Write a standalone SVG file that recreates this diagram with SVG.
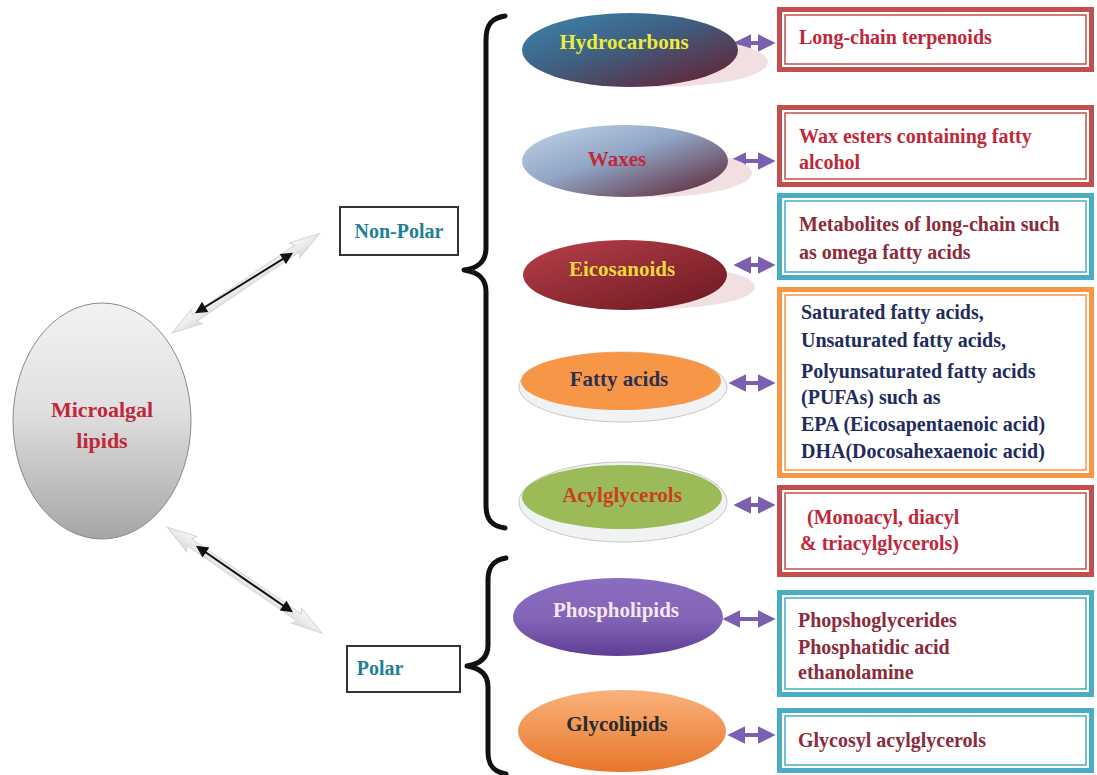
<svg xmlns="http://www.w3.org/2000/svg" width="1097" height="775" viewBox="0 0 1097 775">
<defs>
<style>
text{font-family:"Liberation Serif","Times New Roman",serif;font-weight:bold;font-size:20px}
.el{font-size:21px}
.red{fill:#c0283a}.mar{fill:#8b2b3b}.navy{fill:#1f2d5c}.teal{fill:#1f7f96}
.bR{fill:#fff;stroke:#c0504d}.bT{fill:#fff;stroke:#4bacc6}.bO{fill:#fff;stroke:#f79646}
.thick{stroke-width:5}.thin{stroke-width:1.5}
.pa{stroke:#7b5fb0;stroke-width:4;fill:none;marker-start:url(#pS);marker-end:url(#pE)}
.ba{stroke:#111;stroke-width:2;fill:none;marker-start:url(#bS);marker-end:url(#bE)}
.ga{fill:url(#gArr);stroke:#d4d4d4;stroke-width:1}
.brace{fill:none;stroke:#111;stroke-width:5;stroke-linecap:round;stroke-linejoin:round}
.lbl{fill:#fff;stroke:#333;stroke-width:2}
</style>
<marker id="pE" viewBox="0 0 10 10" refX="8" refY="5" markerWidth="4.5" markerHeight="4.5" orient="auto"><path d="M0 0 L10 5 L0 10 Z" fill="#7b5fb0"/></marker>
<marker id="pS" viewBox="0 0 10 10" refX="2" refY="5" markerWidth="4.5" markerHeight="4.5" orient="auto"><path d="M10 0 L0 5 L10 10 Z" fill="#7b5fb0"/></marker>
<marker id="bE" viewBox="0 0 10 10" refX="8" refY="5" markerWidth="7" markerHeight="6" orient="auto"><path d="M0 0 L10 5 L0 10 Z" fill="#111"/></marker>
<marker id="bS" viewBox="0 0 10 10" refX="2" refY="5" markerWidth="7" markerHeight="6" orient="auto"><path d="M10 0 L0 5 L10 10 Z" fill="#111"/></marker>
<linearGradient id="gMain" x1="0" y1="0" x2="0" y2="1"><stop offset="0" stop-color="#f2f2f2"/><stop offset="0.45" stop-color="#e0e0e0"/><stop offset="1" stop-color="#a6a6a6"/></linearGradient>
<linearGradient id="gArr" x1="0" y1="0" x2="0" y2="1"><stop offset="0" stop-color="#fafafa"/><stop offset="1" stop-color="#dcdcdc"/></linearGradient>
<linearGradient id="gHyd" x1="0" y1="0" x2="1" y2="1"><stop offset="0" stop-color="#3b86b0"/><stop offset="0.45" stop-color="#3f5f80"/><stop offset="1" stop-color="#6a1a2c"/></linearGradient>
<linearGradient id="gWax" x1="0" y1="0" x2="1" y2="1"><stop offset="0" stop-color="#c4d6ec"/><stop offset="0.45" stop-color="#90a4c4"/><stop offset="1" stop-color="#5a1c2c"/></linearGradient>
<linearGradient id="gEic" x1="0" y1="0" x2="1" y2="1"><stop offset="0" stop-color="#b8404a"/><stop offset="1" stop-color="#6a1820"/></linearGradient>
<linearGradient id="gPho" x1="0" y1="0" x2="0" y2="1"><stop offset="0" stop-color="#8a6cc0"/><stop offset="0.5" stop-color="#8466b8"/><stop offset="1" stop-color="#5e3e96"/></linearGradient>
<linearGradient id="gGly" x1="0" y1="0" x2="0" y2="1"><stop offset="0" stop-color="#f9b27c"/><stop offset="1" stop-color="#e8762a"/></linearGradient>
</defs>
<rect width="1097" height="775" fill="#fff"/>

<g id="connectors">
<g transform="translate(172 333) rotate(-34)"><polygon class="ga" points="0,0 30,-9 27,-4 151,-4 148,-9 178,0 148,9 151,4 27,4 30,9"/></g>
<g transform="translate(167 527) rotate(34.4)"><polygon class="ga" points="0,0 30,-9 27,-4 160,-4 157,-9 188,0 157,9 160,4 27,4 30,9"/></g>
<line class="ba" x1="197" y1="312" x2="291" y2="254"/>
<line class="ba" x1="198" y1="547" x2="291" y2="611"/>
<path class="brace" d="M505 16 C492 18 486 24 486 40 L486 248 C486 262 478 268 464 270 C478 272 486 278 486 292 L486 505 C486 520 492 526 505 528"/>
<path class="brace" d="M506 558 C494 560 488 566 488 580 L488 645 C488 658 480 664 467 666 C480 668 488 674 488 687 L488 752 C488 766 494 772 506 774"/>
<line class="pa" x1="737" y1="43" x2="772" y2="43"/>
<line class="pa" x1="732" y1="161" x2="772" y2="161"/>
<line class="pa" x1="737" y1="265" x2="772" y2="265"/>
<line class="pa" x1="732" y1="383" x2="772" y2="383"/>
<line class="pa" x1="737" y1="505" x2="772" y2="505"/>
<line class="pa" x1="726" y1="619" x2="772" y2="619"/>
<line class="pa" x1="731" y1="735" x2="772" y2="735"/>
</g>

<g id="microalgal">
<ellipse cx="102" cy="421" rx="89" ry="118" fill="url(#gMain)" stroke="#8a8a8a" stroke-width="1"/>
<text x="102" y="417" text-anchor="middle" class="red" style="font-size:22px">Microalgal</text>
<text x="102" y="448" text-anchor="middle" class="red" style="font-size:22px">lipids</text>
</g>

<g id="nonpolar">
<rect class="lbl" x="340" y="207" width="118" height="48"/>
<text x="399" y="238" text-anchor="middle" class="teal">Non-Polar</text>
</g>
<g id="polar">
<rect class="lbl" x="347" y="646" width="113" height="46"/>
<text x="380" y="675" text-anchor="middle" class="teal">Polar</text>
</g>

<g id="hydrocarbons">
<ellipse cx="660" cy="62" rx="108" ry="25" fill="#f2dfe2"/>
<ellipse cx="630" cy="50" rx="108" ry="37" fill="url(#gHyd)"/>
<text x="624" y="49" text-anchor="middle" class="el" fill="#ecec3c">Hydrocarbons</text>
</g>
<g id="waxes">
<ellipse cx="652" cy="173" rx="100" ry="24" fill="#f2dfe2"/>
<ellipse cx="625" cy="161" rx="103" ry="36" fill="url(#gWax)"/>
<text x="617" y="166" text-anchor="middle" class="red el">Waxes</text>
</g>
<g id="eicosanoids">
<ellipse cx="655" cy="287" rx="100" ry="22" fill="#f2dfe2"/>
<ellipse cx="625" cy="275" rx="102" ry="35" fill="url(#gEic)"/>
<text x="622" y="276" text-anchor="middle" class="el" fill="#ecd83c">Eicosanoids</text>
</g>
<g id="fattyacids">
<ellipse cx="623" cy="387" rx="104" ry="35" fill="#f0f2f4" stroke="#c8c8c8" stroke-width="1"/>
<ellipse cx="621" cy="381" rx="100" ry="29" fill="#f79646"/>
<text x="619" y="386" text-anchor="middle" class="el" fill="#2a3050">Fatty acids</text>
</g>
<g id="acylglycerols">
<ellipse cx="623" cy="502" rx="104" ry="40" fill="#f0f2f4" stroke="#c8c8c8" stroke-width="1"/>
<ellipse cx="622" cy="497" rx="100" ry="32" fill="#9bbb59"/>
<text x="622" y="502" text-anchor="middle" class="el" fill="#c8401e">Acylglycerols</text>
</g>
<g id="phospholipids">
<ellipse cx="618" cy="617" rx="105" ry="39" fill="url(#gPho)"/>
<text x="616" y="617" text-anchor="middle" class="el" fill="#f4e6f2">Phospholipids</text>
</g>
<g id="glycolipids">
<ellipse cx="622" cy="731" rx="104" ry="41" fill="url(#gGly)"/>
<text x="617" y="731" text-anchor="middle" class="el" fill="#2a2a2a">Glycolipids</text>
</g>

<g id="box-terpenoids">
<rect class="bR thick" x="779.5" y="9.5" width="312" height="60"/>
<rect class="bR thin" x="785" y="15" width="301" height="49"/>
<text x="799" y="44" class="red">Long-chain terpenoids</text>
</g>
<g id="box-waxesters">
<rect class="bR thick" x="779.5" y="107.5" width="312" height="77"/>
<rect class="bR thin" x="785" y="113" width="301" height="66"/>
<text x="799" y="143" class="red">Wax esters containing fatty</text>
<text x="799" y="169" class="red">alcohol</text>
</g>
<g id="box-metabolites">
<rect class="bT thick" x="779.5" y="195.5" width="312" height="82"/>
<rect class="bT thin" x="785" y="201" width="301" height="71"/>
<text x="799" y="231" class="mar">Metabolites of long-chain such</text>
<text x="799" y="259" class="mar">as omega fatty acids</text>
</g>
<g id="box-fattyacids">
<rect class="bO thick" x="779.5" y="289.5" width="312" height="186"/>
<rect class="bO thin" x="785" y="295" width="301" height="175"/>
<text x="801" y="319" class="navy">Saturated fatty acids,</text>
<text x="801" y="347" class="navy">Unsaturated fatty acids,</text>
<text x="801" y="378" class="navy">Polyunsaturated fatty acids</text>
<text x="801" y="404" class="navy">(PUFAs) such as</text>
<text x="801" y="431" class="navy">EPA (Eicosapentaenoic acid)</text>
<text x="801" y="458" class="navy">DHA(Docosahexaenoic acid)</text>
</g>
<g id="box-acylglycerols">
<rect class="bR thick" x="779.5" y="487.5" width="312" height="87"/>
<rect class="bR thin" x="785" y="493" width="301" height="76"/>
<text x="807" y="524" class="red">(Monoacyl, diacyl</text>
<text x="800" y="550" class="red">&amp; triacylglycerols)</text>
</g>
<g id="box-phospho">
<rect class="bT thick" x="779.5" y="592.5" width="312" height="102"/>
<rect class="bT thin" x="785" y="598" width="301" height="91"/>
<text x="798" y="627" class="mar">Phopshoglycerides</text>
<text x="798" y="654" class="mar">Phosphatidic acid</text>
<text x="798" y="679" class="mar">ethanolamine</text>
</g>
<g id="box-glycosyl">
<rect class="bT thick" x="779.5" y="710.5" width="312" height="60"/>
<rect class="bT thin" x="785" y="716" width="301" height="49"/>
<text x="798" y="747" class="mar">Glycosyl acylglycerols</text>
</g>
</svg>
